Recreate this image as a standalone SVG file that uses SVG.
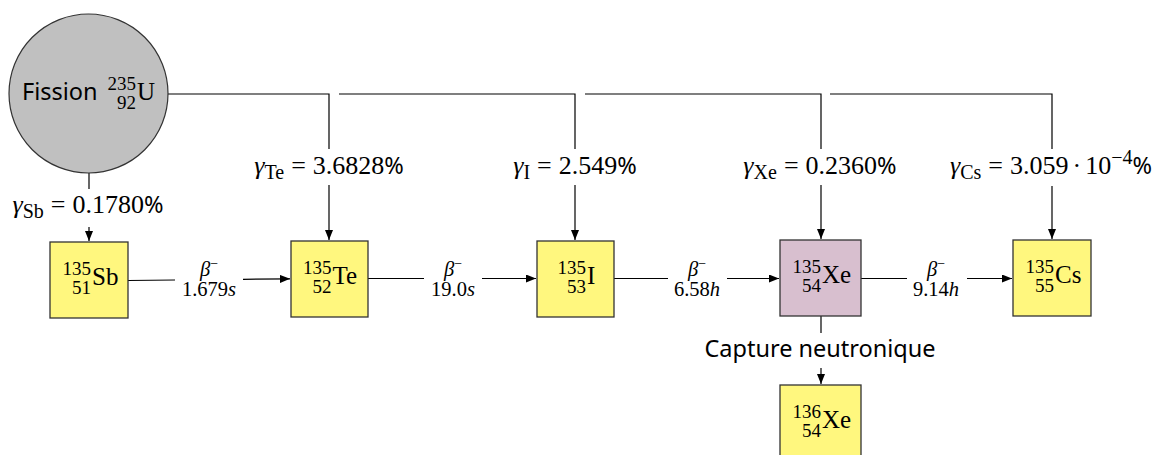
<svg xmlns="http://www.w3.org/2000/svg" width="1158" height="455" viewBox="0 0 1158 455">
<style>
.m{font-family:"Liberation Serif","DejaVu Serif",serif;font-size:25px;fill:#000}
.g{font-family:"Liberation Serif","DejaVu Serif",serif;font-size:26px;fill:#000}
.sc{font-size:20px}
.ss{font-size:19px}
.s{font-family:"Noto Sans","Open Sans","DejaVu Sans",sans-serif;font-size:23.5px;fill:#000}
.b{font-family:"Liberation Serif","DejaVu Serif",serif;font-size:20.5px;fill:#000}
.it{font-style:italic}
.box{fill:#fff77e;stroke:#333;stroke-width:1.3}
.xe{fill:#d8bfcf;stroke:#333;stroke-width:1.3}
.ln{fill:none;stroke:#000;stroke-width:1.2}
</style>
<defs>
<marker id="ah" viewBox="0 0 10 8" refX="10" refY="4" markerWidth="10" markerHeight="8" markerUnits="userSpaceOnUse" orient="auto">
<path d="M0,0 L10,4 L0,8 Z" fill="#000"/>
</marker>
</defs>
<rect width="1158" height="455" fill="#fff"/>
<g id="connectors">
<path class="ln" d="M168,94 H329 V149"/>
<path class="ln" d="M329,185 V240" marker-end="url(#ah)"/>
<path class="ln" d="M339,94 H575 V149"/>
<path class="ln" d="M575,185 V240" marker-end="url(#ah)"/>
<path class="ln" d="M585,94 H821 V149"/>
<path class="ln" d="M821,185 V239" marker-end="url(#ah)"/>
<path class="ln" d="M830,94 H1052 V149"/>
<path class="ln" d="M1052,186 V239" marker-end="url(#ah)"/>
<path class="ln" d="M89,173 V189"/>
<path class="ln" d="M89,227 V241" marker-end="url(#ah)"/>
<path class="ln" d="M128,280.5 L175,280"/>
<path class="ln" d="M243,279.3 L290,278.8" marker-end="url(#ah)"/>
<path class="ln" d="M368,278.5 H424"/>
<path class="ln" d="M482,278.5 H536" marker-end="url(#ah)"/>
<path class="ln" d="M614,278.5 H668"/>
<path class="ln" d="M727,278.5 H779" marker-end="url(#ah)"/>
<path class="ln" d="M861,278.5 H907"/>
<path class="ln" d="M967,278.5 H1012" marker-end="url(#ah)"/>
<path class="ln" d="M821,316 V333"/>
<path class="ln" d="M821,368 V384" marker-end="url(#ah)"/>
<text class="g" x="88" y="213" text-anchor="middle"><tspan class="it">γ</tspan><tspan class="sc" dy="5">Sb</tspan><tspan dy="-5" dx="7">=</tspan><tspan dx="7">0.1780</tspan><tspan class="s">%</tspan></text>
<text class="g" x="329" y="174" text-anchor="middle"><tspan class="it">γ</tspan><tspan class="sc" dy="5">Te</tspan><tspan dy="-5" dx="7">=</tspan><tspan dx="7">3.6828</tspan><tspan class="s">%</tspan></text>
<text class="g" x="575" y="174" text-anchor="middle"><tspan class="it">γ</tspan><tspan class="sc" dy="5">I</tspan><tspan dy="-5" dx="7">=</tspan><tspan dx="7">2.549</tspan><tspan class="s">%</tspan></text>
<text class="g" x="820" y="174" text-anchor="middle"><tspan class="it">γ</tspan><tspan class="sc" dy="5">Xe</tspan><tspan dy="-5" dx="7">=</tspan><tspan dx="7">0.2360</tspan><tspan class="s">%</tspan></text>
<text class="g" x="1051" y="174" text-anchor="middle"><tspan class="it">γ</tspan><tspan class="sc" dy="5">Cs</tspan><tspan dy="-5" dx="7">=</tspan><tspan dx="7">3.059</tspan><tspan dx="4">·</tspan><tspan dx="4">10</tspan><tspan class="sc" dy="-10">−4</tspan><tspan class="s" dy="10">%</tspan></text>
<text class="b" x="209" y="276" text-anchor="middle"><tspan class="it">β</tspan><tspan font-size="14" dy="-8">−</tspan></text>
<text class="b" x="209" y="296" text-anchor="middle">1.679<tspan class="it">s</tspan></text>
<text class="b" x="453" y="276" text-anchor="middle"><tspan class="it">β</tspan><tspan font-size="14" dy="-8">−</tspan></text>
<text class="b" x="453" y="296" text-anchor="middle">19.0<tspan class="it">s</tspan></text>
<text class="b" x="697" y="276" text-anchor="middle"><tspan class="it">β</tspan><tspan font-size="14" dy="-8">−</tspan></text>
<text class="b" x="697" y="296" text-anchor="middle">6.58<tspan class="it">h</tspan></text>
<text class="b" x="936" y="276" text-anchor="middle"><tspan class="it">β</tspan><tspan font-size="14" dy="-8">−</tspan></text>
<text class="b" x="936" y="296" text-anchor="middle">9.14<tspan class="it">h</tspan></text>
<text class="s" x="820" y="357" text-anchor="middle">Capture neutronique</text>
</g>
<g id="fission">
<circle cx="88.5" cy="93.5" r="79.5" fill="#c0c0c0" stroke="#333" stroke-width="1.2"/>
<text class="s" x="22" y="100">Fission</text>
<text class="m ss" x="136" y="90" text-anchor="end">235</text>
<text class="m ss" x="136" y="109" text-anchor="end">92</text>
<text class="m" x="137" y="100">U</text>
</g>
<g id="sb135">
<rect class="box" x="50" y="242" width="78" height="76"/>
<text class="m ss" x="91" y="275" text-anchor="end">135</text>
<text class="m ss" x="91" y="294" text-anchor="end">51</text>
<text class="m" x="92" y="285">Sb</text>
</g>
<g id="te135">
<rect class="box" x="291" y="241" width="77" height="76"/>
<text class="m ss" x="331.5" y="274" text-anchor="end">135</text>
<text class="m ss" x="331.5" y="293" text-anchor="end">52</text>
<text class="m" x="332.5" y="284">Te</text>
</g>
<g id="i135">
<rect class="box" x="537" y="241" width="77" height="76"/>
<text class="m ss" x="586" y="274" text-anchor="end">135</text>
<text class="m ss" x="586" y="293" text-anchor="end">53</text>
<text class="m" x="587" y="284">I</text>
</g>
<g id="xe135">
<rect class="xe" x="780" y="240" width="81" height="76"/>
<text class="m ss" x="821" y="273" text-anchor="end">135</text>
<text class="m ss" x="821" y="292" text-anchor="end">54</text>
<text class="m" x="822" y="283">Xe</text>
</g>
<g id="cs135">
<rect class="box" x="1013" y="240" width="78" height="76"/>
<text class="m ss" x="1054" y="273" text-anchor="end">135</text>
<text class="m ss" x="1054" y="292" text-anchor="end">55</text>
<text class="m" x="1055" y="283">Cs</text>
</g>
<g id="xe136">
<rect class="box" x="780" y="385" width="81" height="76"/>
<text class="m ss" x="821" y="418" text-anchor="end">136</text>
<text class="m ss" x="821" y="437" text-anchor="end">54</text>
<text class="m" x="822" y="428">Xe</text>
</g>
</svg>
